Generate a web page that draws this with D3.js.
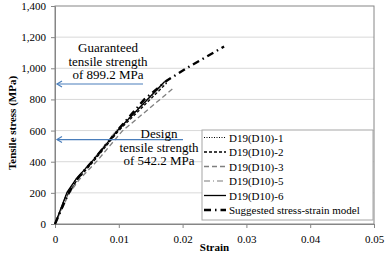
<!DOCTYPE html>
<html>
<head>
<meta charset="utf-8">
<script src="https://cdn.jsdelivr.net/npm/d3@7"></script>
<style>
  body { margin: 0; background: #fff; }
  svg { display: block; }
  svg text { font-family: "Liberation Serif", "Times New Roman", Times, "DejaVu Serif", serif; }
</style>
</head>
<body>
<svg id="chart"></svg>
<script>
// strain/stress
const s1Strain = [0, 0.0018, 0.0033, 0.006, 0.010, 0.0165];
const s1Stress = [0, 195, 290, 415, 610, 875];
const s2Strain = [0, 0.002, 0.0035, 0.0062, 0.010, 0.0175];
const s2Stress = [0, 190, 285, 410, 600, 905];
const s3Strain = [0, 0.0022, 0.0038, 0.0066, 0.0105, 0.0185];
const s3Stress = [0, 195, 285, 405, 595, 870];
const s5Strain = [0, 0.002, 0.0034, 0.006, 0.0098, 0.0178];
const s5Stress = [0, 200, 295, 415, 610, 930];
const s6Strain = [0, 0.0019, 0.0034, 0.006, 0.0099, 0.0172];
const s6Stress = [0, 205, 295, 410, 605, 915];
const modelStrain = [0, 0.002, 0.0035, 0.006, 0.010, 0.014, 0.0175, 0.021, 0.0265];
const modelStress = [0, 190, 290, 410, 610, 800, 920, 1010, 1140];

const seriesNames = ['D19(D10)-1', 'D19(D10)-2', 'D19(D10)-3', 'D19(D10)-5', 'D19(D10)-6', 'Suggested stress-strain model'];
const xTicks = [0, 0.01, 0.02, 0.03, 0.04, 0.05];
const yTicks = [0, 200, 400, 600, 800, 1000, 1200, 1400];
const guaranteed = 899.2;
const design = 542.2;

const width = 387, height = 253;
const margin = { top: 6, right: 13, bottom: 29, left: 55 };
const serif = '"Liberation Serif", "Times New Roman", serif';

const svg = d3.select('#chart')
  .attr('width', width)
  .attr('height', height)
  .attr('viewBox', `0 0 ${width} ${height}`);

const x = d3.scaleLinear().domain([0, 0.05]).range([margin.left, width - margin.right]);
const y = d3.scaleLinear().domain([0, 1400]).range([height - margin.bottom, margin.top]);

// gridlines
svg.append('g')
  .selectAll('line')
  .data(yTicks.slice(1, -1))
  .join('line')
  .attr('x1', x(0)).attr('x2', x(0.05))
  .attr('y1', d => y(d)).attr('y2', d => y(d))
  .attr('stroke', '#d9d9d9').attr('stroke-width', 1);

// plot border
svg.append('rect')
  .attr('x', x(0)).attr('y', y(1400))
  .attr('width', x(0.05) - x(0)).attr('height', y(0) - y(1400))
  .attr('fill', 'none').attr('stroke', '#868686').attr('stroke-width', 1);

// axes
const xAxis = svg.append('g')
  .attr('transform', `translate(0,${y(0)})`)
  .call(d3.axisBottom(x).tickValues(xTicks).tickSize(4).tickFormat(d => d === 0 ? '0' : d3.format('.2f')(d)));
const yAxis = svg.append('g')
  .attr('transform', `translate(${x(0)},0)`)
  .call(d3.axisLeft(y).tickValues(yTicks).tickSize(4).tickFormat(d3.format(',')));

[xAxis, yAxis].forEach(a => {
  a.attr('font-family', serif).attr('font-size', 11);
  a.select('.domain').attr('stroke', '#868686');
  a.selectAll('.tick line').attr('stroke', '#868686');
  a.selectAll('text').attr('fill', '#000');
});
xAxis.selectAll('text').attr('dy', '1.05em');
yAxis.selectAll('text').attr('x', -9);

// axis labels
svg.append('text')
  .attr('x', x(0.025)).attr('y', 251)
  .attr('text-anchor', 'middle')
  .attr('font-size', 11).attr('font-weight', 'bold')
  .text('Strain');
svg.append('text')
  .attr('transform', 'rotate(-90)')
  .attr('x', -123).attr('y', 16)
  .attr('text-anchor', 'middle')
  .attr('font-size', 11).attr('font-weight', 'bold')
  .text('Tensile stress (MPa)');

// curves
const line = d3.line().x(d => x(d[0])).y(d => y(d[1]));
const styles = [
  { stroke: '#000', width: 1, dash: '1,1.5' },
  { stroke: '#000', width: 1.3, dash: '3,2' },
  { stroke: '#7f7f7f', width: 1.3, dash: '5,3' },
  { stroke: '#a6a6a6', width: 1.3, dash: '6,3,1,3' },
  { stroke: '#000', width: 1.3, dash: null },
  { stroke: '#000', width: 2.4, dash: '7,4,1.5,4' }
];
const data = [
  d3.zip(s1Strain, s1Stress),
  d3.zip(s2Strain, s2Stress),
  d3.zip(s3Strain, s3Stress),
  d3.zip(s5Strain, s5Stress),
  d3.zip(s6Strain, s6Stress),
  d3.zip(modelStrain, modelStress)
];

data.forEach((pts, i) => {
  svg.append('path')
    .datum(pts)
    .attr('fill', 'none')
    .attr('stroke', styles[i].stroke)
    .attr('stroke-width', styles[i].width)
    .attr('stroke-dasharray', styles[i].dash)
    .attr('d', line);
});

// arrows (line + open head at the axis)
const blue = '#4a7ebb';
[[guaranteed, 143], [design, 183]].forEach(([v, x1]) => {
  const yy = y(v), x0 = x(0) + 2;
  svg.append('line')
    .attr('x1', x1).attr('x2', x0)
    .attr('y1', yy).attr('y2', yy)
    .attr('stroke', blue).attr('stroke-width', 1.2);
  svg.append('path')
    .attr('d', `M${x0 + 5},${yy - 3} L${x0},${yy} L${x0 + 5},${yy + 3}`)
    .attr('fill', 'none').attr('stroke', blue).attr('stroke-width', 1.2);
});

// annotation texts
const note = (lines, cx, y0) => {
  lines.forEach((t, i) => {
    svg.append('text')
      .attr('x', cx).attr('y', y0 + i * 13.5)
      .attr('text-anchor', 'middle')
      .attr('font-size', 13).attr('fill', '#000')
      .text(t);
  });
};
note(['Guaranteed', 'tensile strength', 'of 899.2 MPa'], 108, 52);
note(['Design', 'tensile strength', 'of 542.2 MPa'], 159, 138);

// legend
const lg = svg.append('g');
lg.append('rect')
  .attr('x', 202).attr('y', 130)
  .attr('width', 171).attr('height', 90)
  .attr('fill', '#fff').attr('stroke', '#a6a6a6').attr('stroke-width', 1);
seriesNames.forEach((name, i) => {
  const yy = 137.5 + i * 14.5;
  lg.append('line')
    .attr('x1', 204).attr('x2', 226)
    .attr('y1', yy).attr('y2', yy)
    .attr('stroke', styles[i].stroke)
    .attr('stroke-width', styles[i].width)
    .attr('stroke-dasharray', styles[i].dash);
  lg.append('text')
    .attr('x', 229).attr('y', yy + 4)
    .attr('font-size', 11).attr('fill', '#000')
    .text(name);
});
</script>
</body>
</html>
